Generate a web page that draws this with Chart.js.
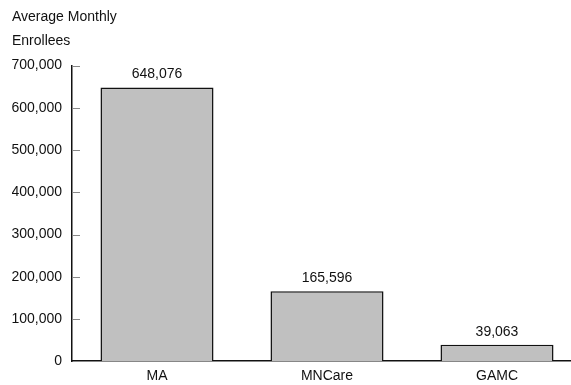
<!DOCTYPE html>
<html>
<head>
<meta charset="utf-8">
<script src="https://cdn.jsdelivr.net/npm/chart.js@4/dist/chart.umd.min.js"></script>
<style>
  html, body { margin: 0; padding: 0; background: #fff; overflow: hidden; }
  .chart-container { width: 582px; height: 385px; }
</style>
</head>
<body>
<div class="chart-container"><canvas id="enrolleesChart"></canvas></div>
<script>
var programs = ['MA', 'MNCare', 'GAMC'];
var enrollees = [648076, 165596, 39063];
var axisTitle = ['Average Monthly', 'Enrollees'];
var yMax = 700000;
var yStep = 100000;

var fontFamily = '"Liberation Sans", Arial, sans-serif';
var fontSize = 14;

// value labels above the bars + small tick marks inside the y axis
var extrasPlugin = {
  id: 'extras',
  afterDatasetsDraw: function (chart) {
    var ctx = chart.ctx;
    var meta = chart.getDatasetMeta(0);
    ctx.save();
    ctx.fillStyle = '#111';
    ctx.font = fontSize + 'px ' + fontFamily;
    ctx.textAlign = 'center';
    ctx.textBaseline = 'bottom';
    meta.data.forEach(function (bar, i) {
      ctx.fillText(enrollees[i].toLocaleString('en-US'), bar.x, bar.y - 6);
    });

    var yScale = chart.scales.y;
    ctx.strokeStyle = '#888';
    ctx.lineWidth = 1;
    yScale.ticks.forEach(function (t) {
      if (t.value === 0) return;
      var py = Math.round(yScale.getPixelForValue(t.value)) + 0.5;
      ctx.beginPath();
      ctx.moveTo(chart.chartArea.left, py);
      ctx.lineTo(chart.chartArea.left + 8, py);
      ctx.stroke();
    });
    ctx.restore();
  }
};

var ctx = document.getElementById('enrolleesChart').getContext('2d');
var enrolleesChart = new Chart(ctx, {
  type: 'bar',
  data: {
    labels: programs,
    datasets: [{
      data: enrollees,
      backgroundColor: '#c0c0c0',
      borderColor: '#111',
      borderWidth: 1.5,
      categoryPercentage: 0.665,
      barPercentage: 1
    }]
  },
  options: {
    responsive: true,
    maintainAspectRatio: false,
    animation: false,
    layout: { padding: { left: 12, right: 0, top: 0, bottom: -7 } },
    plugins: {
      legend: { display: false },
      tooltip: { enabled: false },
      title: {
        display: true,
        text: axisTitle,
        align: 'start',
        color: '#111',
        font: { family: fontFamily, size: fontSize, weight: 'normal', lineHeight: 1.7 },
        padding: { top: 5, bottom: 13 }
      }
    },
    scales: {
      x: {
        grid: { display: false, drawTicks: false, tickLength: 0 },
        border: { display: true, color: '#111', width: 1.5 },
        ticks: { color: '#111', font: { family: fontFamily, size: fontSize }, padding: 7 }
      },
      y: {
        min: 0,
        max: yMax,
        grid: { display: false, drawTicks: false, tickLength: 0 },
        border: { display: true, color: '#111', width: 1.5 },
        afterFit: function (scale) { scale.width = 60; },
        ticks: {
          stepSize: yStep,
          color: '#111',
          padding: 10,
          font: { family: fontFamily, size: fontSize },
          callback: function (v) { return v.toLocaleString('en-US'); }
        }
      }
    }
  },
  plugins: [extrasPlugin]
});
</script>
</body>
</html>
